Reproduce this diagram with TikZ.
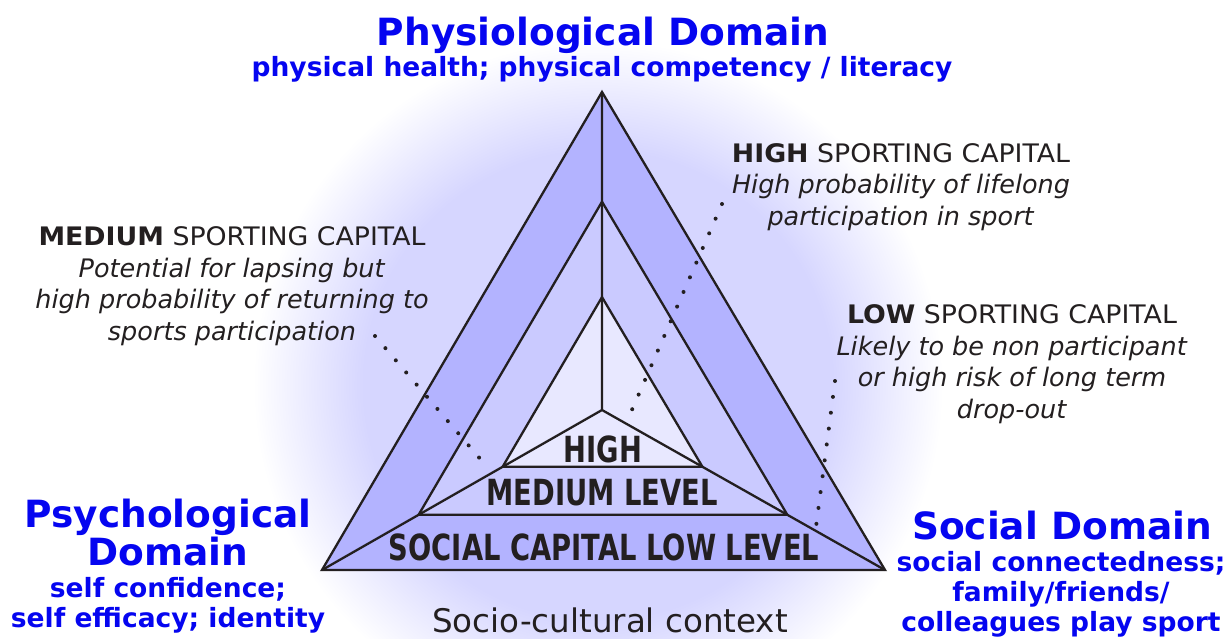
\documentclass[tikz,border=0pt]{standalone}
\usepackage{fontspec}
\setmainfont{DejaVu Sans}
\newfontfamily\lvlfont[FakeStretch=0.76]{DejaVu Sans}
\newfontfamily\notefont[FakeStretch=1.05]{DejaVu Sans}
\usetikzlibrary{calc}
\definecolor{domblue}{RGB}{5,5,240}
\definecolor{inkgray}{RGB}{35,31,32}
\definecolor{glowc}{RGB}{214,214,255}
\definecolor{bandA}{RGB}{179,179,255}
\definecolor{bandB}{RGB}{202,202,255}
\definecolor{bandC}{RGB}{232,232,255}
\pgfdeclareradialshading{glow}{\pgfpoint{0bp}{0bp}}{color(0bp)=(glowc); color(17bp)=(glowc); color(25bp)=(white); color(50bp)=(white)}
\tikzset{
  domtitle/.style={text=domblue, font=\bfseries\fontsize{37.5}{33}\selectfont, align=center, inner sep=0pt, anchor=base},
  domsub/.style={text=domblue, font=\bfseries\fontsize{26.5}{30}\selectfont, align=center, inner sep=0pt, anchor=base},
  capnote/.style={text=inkgray, font=\fontsize{25.5}{31.5}\selectfont, align=center, inner sep=0pt, anchor=base},
  lvl/.style={text=inkgray, font=\lvlfont\bfseries\fontsize{36}{40}\selectfont, inner sep=0pt, anchor=base},
  leader/.style={inkgray, line width=4pt, line cap=round, dash pattern=on 0pt off 16pt},
  triline/.style={inkgray, line width=2.3pt}
}
\newcommand{\capline}[1]{{\notefont\textbf{#1} SPORTING CAPITAL}}
\begin{document}
\begin{tikzpicture}[x=1pt,y=-1pt]
\useasboundingbox (0,0) rectangle (1227,638);
\clip (0,0) rectangle (1227,638);
\shade[shading=glow] (598,385) circle[radius=345];

% triangle corners and centre
\coordinate (top) at (602,92);
\coordinate (bl) at (322,570);
\coordinate (br) at (885,570);
\coordinate (ctr) at (602,410);
\foreach \v in {top,bl,br}{
  \coordinate (m\v) at ($(ctr)!0.655!(\v)$);
  \coordinate (i\v) at ($(ctr)!0.355!(\v)$);
}
\fill[bandA] (top)--(bl)--(br)--cycle;
\fill[bandB] (mtop)--(mbl)--(mbr)--cycle;
\fill[bandC] (itop)--(ibl)--(ibr)--cycle;
\draw[triline] (top)--(bl)--(br)--cycle (mtop)--(mbl)--(mbr)--cycle (itop)--(ibl)--(ibr)--cycle;
\draw[triline] (ctr)--(top) (ctr)--(bl) (ctr)--(br);

\node[lvl] (lvhigh) at (603,462) {HIGH};
\node[lvl] (lvmed) at (602,505) {MEDIUM LEVEL};
\node[lvl] (lvlow) at (604,560) {SOCIAL CAPITAL LOW LEVEL};

% domains (base = last line)
\node[domtitle] (physio) at (603,45) {Physiological Domain};
\node[domsub] (physiosub) at (602,76) {physical health; physical competency / literacy};
\node[domtitle] (psycho) at (168,565) {Psychological\\Domain};
\node[domsub] (psychosub) at (168,627) {self confidence;\\self efficacy; identity};
\node[domtitle] (social) at (1062,539) {Social Domain};
\node[domsub] (socialsub) at (1061,631) {social connectedness;\\family/friends/\\colleagues play sport};

% sporting capital notes
\node[capnote] (hinote) at (901,225) {\capline{HIGH}\\\textit{High probability of lifelong}\\\textit{participation in sport}};
\node[capnote] (mednote) at (232,340) {\capline{MEDIUM}\\\textit{Potential for lapsing but}\\\textit{high probability of returning to}\\\textit{sports participation}};
\node[capnote] (lownote) at (1012,418) {\capline{LOW}\\\textit{Likely to be non participant}\\\textit{or high risk of long term}\\\textit{drop-out}};

\coordinate (hifrom) at (722,204);
\coordinate (hito) at (631,412);
\coordinate (medfrom) at (375,336);
\coordinate (medto) at (488,468);
\coordinate (lowfrom) at (835,381);
\coordinate (lowto) at (816,527);
\draw[leader] (hifrom) -- (hito);
\draw[leader] (medfrom) -- (medto);
\draw[leader] (lowfrom) -- (lowto);

\node[text=inkgray, font=\fontsize{32.5}{36}\selectfont, inner sep=0pt, anchor=base] (context) at (610,632) {Socio-cultural context};
\end{tikzpicture}
\end{document}
